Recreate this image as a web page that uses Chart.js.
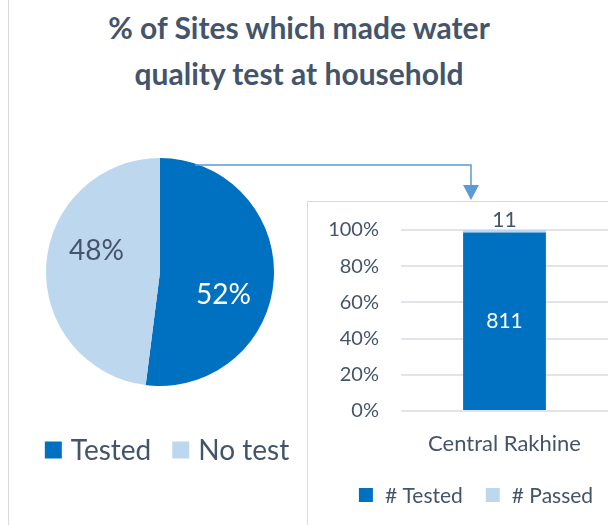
<!DOCTYPE html>
<html>
<head>
<meta charset="utf-8">
<script src="https://cdn.jsdelivr.net/npm/chart.js@4.4.0/dist/chart.umd.min.js"></script>
<style>
  body { margin: 0; width: 608px; height: 525px; background: #fff; position: relative; overflow: hidden; font-family: Lato, sans-serif; }
  #frame { position: absolute; left: 8px; top: 0; height: 525px; border-left: 1px solid #D9D9D9; }
  #title { position: absolute; left: 0; top: 4px; width: 598px; text-align: center; font-weight: bold; font-size: 30px; line-height: 46px; color: #44546A; }
  #pieChart { position: absolute; left: 0; top: 140px; }
  #barBox { position: absolute; left: 307px; top: 201px; width: 340px; height: 360px; border: 1.5px solid #D9D9D9; }
  #barChart { position: absolute; left: 308px; top: 202px; }
  #arrow { position: absolute; left: 0; top: 0; }
</style>
</head>
<body>
<div id="frame"></div>
<div id="title">% of Sites which made water<br>quality test at household</div>
<canvas id="pieChart" width="300" height="330"></canvas>
<div id="barBox"></div>
<canvas id="barChart" width="300" height="323"></canvas>
<svg id="arrow" width="608" height="525">
  <polyline points="195,165 471,165 471,188" stroke="#5B9BD5" stroke-width="1.5" fill="none"/>
  <polygon points="463,185 479,185 471,200" fill="#5B9BD5"/>
</svg>
<script>
// pie data
const pieLabels = ['Tested', 'No test'];
const pieValues = [52, 48];
const pieColors = ['#0070C0', '#BDD7EE'];
const pieLabelColors = ['#FFFFFF', '#44546A'];

// bar data (counts, shown as 100% stacked)
const barCategories = ['Central Rakhine'];
const barSeries = ['# Tested', '# Passed'];
const testedCounts = [811];
const passedCounts = [11];
const yTickValues = [0, 20, 40, 60, 80, 100];

const textColor = '#44546A';
const fontFamily = 'Lato, sans-serif';

function drawLegend(ctx, items, cx, cy, box, gap, spacing, fontSize) {
    ctx.save();
    ctx.font = fontSize + 'px ' + fontFamily;
    ctx.textBaseline = 'middle';
    let total = 0;
    items.forEach(function (it, i) {
        total += box + gap + ctx.measureText(it.text).width + (i > 0 ? spacing : 0);
    });
    let x = cx - total / 2;
    items.forEach(function (it, i) {
        if (i > 0) x += spacing;
        ctx.fillStyle = it.color;
        ctx.fillRect(x, cy - box / 2, box, box);
        x += box + gap;
        ctx.fillStyle = textColor;
        ctx.fillText(it.text, x, cy + 1);
        x += ctx.measureText(it.text).width;
    });
    ctx.restore();
}

const piePlugin = {
    id: 'pieExtras',
    afterDatasetsDraw(chart) {
        const ctx = chart.ctx;
        const meta = chart.getDatasetMeta(0);
        const total = pieValues.reduce(function (a, b) { return a + b; }, 0);
        ctx.save();
        ctx.font = '28px ' + fontFamily;
        ctx.textAlign = 'center';
        ctx.textBaseline = 'middle';
        meta.data.forEach(function (arc, i) {
            const p = arc.getProps(['x', 'y', 'startAngle', 'endAngle', 'outerRadius'], true);
            const mid = (p.startAngle + p.endAngle) / 2 + 0.27;
            const r = p.outerRadius * 0.59;
            ctx.fillStyle = pieLabelColors[i];
            ctx.fillText(Math.round(pieValues[i] / total * 100) + '%', p.x + Math.cos(mid) * r, p.y + Math.sin(mid) * r + 1);
        });
        ctx.restore();
        const items = pieLabels.map(function (l, i) { return { text: l, color: pieColors[i] }; });
        drawLegend(ctx, items, 167, 310, 17, 9, 21, 28);
    }
};

new Chart(document.getElementById('pieChart'), {
    type: 'pie',
    data: {
        labels: pieLabels,
        datasets: [{
            data: pieValues,
            backgroundColor: pieColors,
            borderWidth: 0
        }]
    },
    options: {
        responsive: false,
        animation: false,
        layout: { padding: { left: 46, right: 26, top: 18, bottom: 84 } },
        plugins: { legend: { display: false }, tooltip: { enabled: false } }
    },
    plugins: [piePlugin]
});

const totals = testedCounts.map(function (v, i) { return v + passedCounts[i]; });
const testedShare = testedCounts.map(function (v, i) { return v / totals[i] * 100; });
const passedShare = passedCounts.map(function (v, i) { return v / totals[i] * 100; });

const barPlugin = {
    id: 'barExtras',
    afterDatasetsDraw(chart) {
        const ctx = chart.ctx;
        ctx.save();
        ctx.textAlign = 'center';
        ctx.textBaseline = 'middle';
        ctx.font = '21px ' + fontFamily;
        chart.getDatasetMeta(0).data.forEach(function (bar, i) {
            ctx.fillStyle = '#FFFFFF';
            ctx.fillText(testedCounts[i], bar.x, (bar.y + bar.base) / 2);
        });
        chart.getDatasetMeta(1).data.forEach(function (bar, i) {
            ctx.fillStyle = textColor;
            ctx.fillText(passedCounts[i], bar.x, bar.y - 10);
        });
        ctx.restore();
        const items = barSeries.map(function (s, i) { return { text: s, color: chart.data.datasets[i].backgroundColor }; });
        drawLegend(ctx, items, 168, 293, 14, 12, 23, 21);
    }
};

new Chart(document.getElementById('barChart'), {
    type: 'bar',
    data: {
        labels: barCategories,
        datasets: [
            { label: barSeries[0], data: testedShare, backgroundColor: '#0070C0', barPercentage: 0.4, categoryPercentage: 1 },
            { label: barSeries[1], data: passedShare, backgroundColor: '#BDD7EE', barPercentage: 0.4, categoryPercentage: 1 }
        ]
    },
    options: {
        responsive: false,
        animation: false,
        layout: { padding: { top: 28, right: 0, bottom: 54, left: 0 } },
        plugins: { legend: { display: false }, tooltip: { enabled: false } },
        scales: {
            x: {
                stacked: true,
                grid: { display: false, drawTicks: false },
                border: { display: false },
                ticks: { color: textColor, font: { size: 22, family: fontFamily }, padding: 20 },
                afterFit: function (s) { s.height = 60; }
            },
            y: {
                stacked: true,
                min: 0,
                max: 100,
                afterBuildTicks: function (s) { s.ticks = yTickValues.map(function (v) { return { value: v }; }); },
                ticks: { color: textColor, font: { size: 20, family: fontFamily }, padding: 22, callback: function (v) { return v + '%'; } },
                grid: { color: '#E1E4E9', lineWidth: 2, drawTicks: false },
                border: { display: false },
                // keep the plot area fixed; labels may overflow into the padding
                afterFit: function (s) { s.width = 93; s.paddingTop = 0; s.paddingBottom = 0; }
            }
        }
    },
    plugins: [barPlugin]
});
</script>
</body>
</html>
